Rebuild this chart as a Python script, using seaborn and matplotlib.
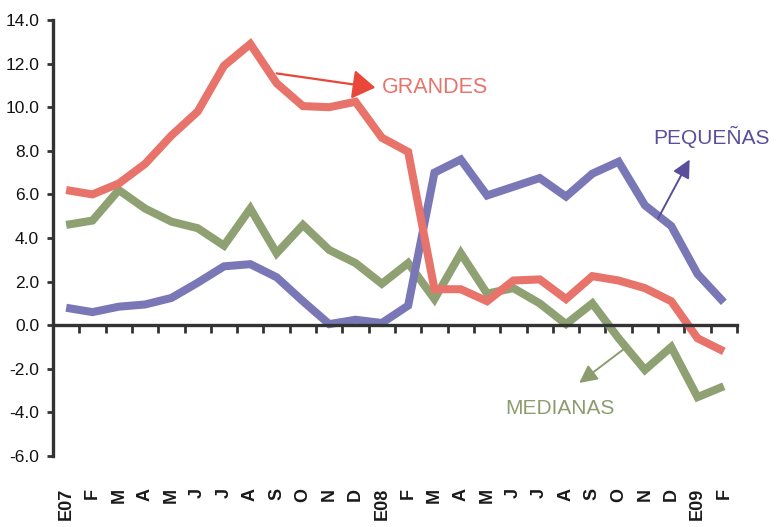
import matplotlib
matplotlib.use("Agg")
import matplotlib.pyplot as plt
import seaborn as sns
import pandas as pd
import numpy as np

months = ["E07", "F", "M", "A", "M", "J", "J", "A", "S", "O", "N", "D",
          "E08", "F", "M", "A", "M", "J", "J", "A", "S", "O", "N", "D",
          "E09", "F"]
grandes = [6.2, 6.0, 6.5, 7.4, 8.7, 9.8, 11.9, 12.9, 11.1, 10.05, 10.0, 10.25,
           8.6, 7.95, 1.65, 1.65, 1.1, 2.05, 2.1, 1.2, 2.25, 2.05, 1.7, 1.1,
           -0.6, -1.2]
pequenas = [0.8, 0.6, 0.85, 0.95, 1.25, 1.95, 2.7, 2.8, 2.2, 1.1, 0.05, 0.25,
            0.1, 0.9, 7.0, 7.6, 5.95, 6.35, 6.75, 5.9, 6.95, 7.5, 5.5, 4.55,
            2.35, 1.05]
medianas = [4.6, 4.8, 6.2, 5.35, 4.75, 4.45, 3.65, 5.35, 3.3, 4.6, 3.45, 2.85,
            1.9, 2.85, 1.2, 3.3, 1.45, 1.7, 1.0, 0.05, 1.0, -0.6, -2.05, -1.0,
            -3.3, -2.8]

c_red = "#E8736A"
c_blue = "#7A77B7"
c_green = "#8FA173"

sns.set_style("white")
plt.rcParams["font.family"] = ["Liberation Sans Narrow", "Liberation Sans", "DejaVu Sans"]
plt.rcParams["axes.unicode_minus"] = False

idx = list(range(len(months)))
df = pd.DataFrame({
    "idx": idx * 3,
    "valor": medianas + pequenas + grandes,
    "serie": ["MEDIANAS"] * len(idx) + ["PEQUEÑAS"] * len(idx) + ["GRANDES"] * len(idx),
})

fig = plt.figure(figsize=(7.83, 5.27), dpi=100)
ax = fig.add_axes([53 / 783, (527 - 456) / 527, (737 - 53) / 783, (456 - 20) / 527])

sns.lineplot(data=df, x="idx", y="valor", hue="serie",
             palette={"MEDIANAS": c_green, "PEQUEÑAS": c_blue, "GRANDES": c_red},
             hue_order=["MEDIANAS", "PEQUEÑAS", "GRANDES"],
             linewidth=5.8, legend=False, ax=ax, sort=False)
for ln in ax.lines:
    ln.set_solid_joinstyle("miter")
    ln.set_solid_capstyle("butt")

ax.set_xlim(-0.5, len(months) - 0.5)
ax.set_ylim(-6, 14)
ax.set_xlabel("")
ax.set_ylabel("")

axis_col = "#333333"
for s in ["top", "right"]:
    ax.spines[s].set_visible(False)
ax.spines["bottom"].set_position(("data", 0))
ax.spines["bottom"].set_linewidth(2.4)
ax.spines["bottom"].set_color(axis_col)
ax.spines["left"].set_linewidth(2.4)
ax.spines["left"].set_color(axis_col)

ax.set_xticks(np.arange(-0.5, len(months), 1.0))
ax.set_xticklabels([])
ax.tick_params(axis="x", direction="out", length=6, width=2, color=axis_col, bottom=True)

yt = np.arange(-6, 14.1, 2)
ax.set_yticks(yt)
ax.set_yticklabels([f"{v:.1f}" for v in yt])
ax.tick_params(axis="y", direction="out", length=4, width=2, color=axis_col,
               labelsize=12.5, pad=6, labelcolor="#111111", left=True)

sec = ax.secondary_xaxis("bottom")
sec.set_xticks(idx)
sec.set_xticklabels(months, rotation=90, fontsize=13, fontweight="bold",
                    family=["Liberation Sans", "DejaVu Sans"], color="#1a1a1a")
sec.tick_params(length=0, pad=23)
sec.spines["bottom"].set_visible(False)

# Annotations
ax.annotate("", xy=(11.75, 10.9), xytext=(8.0, 11.55),
            arrowprops=dict(arrowstyle="-|>,head_length=0.7,head_width=0.45",
                            lw=1.6, color="#E8473A", mutation_scale=20,
                            shrinkA=0, shrinkB=0))
ax.text(12.0, 10.9, "GRANDES", color=c_red, fontsize=15.5, ha="left", va="center")

ax.annotate("", xy=(23.7, 7.6), xytext=(22.5, 4.9),
            arrowprops=dict(arrowstyle="-|>,head_length=0.6,head_width=0.3",
                            lw=1.4, color="#5A4E9B", mutation_scale=18,
                            shrinkA=0, shrinkB=0))
ax.text(22.3, 8.62, "PEQUEÑAS", color="#5A4E9B", fontsize=15, ha="left", va="center")

ax.annotate("", xy=(19.5, -2.65), xytext=(21.3, -1.0),
            arrowprops=dict(arrowstyle="-|>,head_length=0.6,head_width=0.3",
                            lw=1.4, color="#8C9C6E", mutation_scale=18,
                            shrinkA=0, shrinkB=0))
ax.text(16.68, -3.8, "MEDIANAS", color="#8C9C6E", fontsize=15, ha="left", va="center")

fig.savefig("out.png", dpi=100)
